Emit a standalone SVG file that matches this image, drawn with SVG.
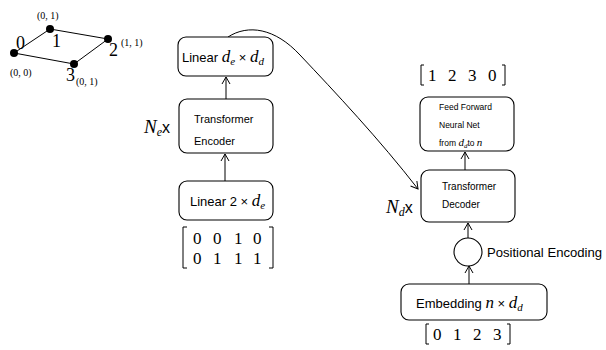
<svg xmlns="http://www.w3.org/2000/svg" width="606" height="350" viewBox="0 0 606 350">
  <defs>
    <marker id="arr" markerWidth="10" markerHeight="10" refX="8" refY="5" orient="auto" markerUnits="userSpaceOnUse">
      <path d="M1,1 L8,5 L1,9" fill="none" stroke="#000" stroke-width="1"/>
    </marker>
  </defs>
  <style>
    .box { fill: #fff; stroke: #000; stroke-width: 1.1; }
    .edge { fill: none; stroke: #000; stroke-width: 1; }
    .sans { font-family: "Liberation Sans", Arial, sans-serif; fill: #000; }
    .helv { font-family: "Liberation Sans", Arial, sans-serif; fill: #000; }
    .serif { font-family: "Liberation Serif", "Times New Roman", serif; fill: #000; }
    .mi { font-family: "Liberation Serif", "Times New Roman", serif; font-style: italic; fill: #000; }
    .dot { fill: #000; }
  </style>

  <!-- small input graph -->
  <g id="graph">
    <path class="edge" d="M14,53 L50,29 L108,39 L74,64 Z"/>
    <circle class="dot" cx="14" cy="53" r="4"/>
    <circle class="dot" cx="50" cy="29" r="4"/>
    <circle class="dot" cx="108" cy="39" r="4"/>
    <circle class="dot" cx="74" cy="64" r="4"/>
    <text class="serif" x="16" y="49" font-size="18">0</text>
    <text class="serif" x="52" y="47" font-size="18">1</text>
    <text class="serif" x="109" y="56" font-size="18">2</text>
    <text class="serif" x="66" y="81" font-size="18">3</text>
    <text class="serif" x="37" y="19" font-size="10">(0, 1)</text>
    <text class="serif" x="121" y="46" font-size="10">(1, 1)</text>
    <text class="serif" x="10" y="76" font-size="10">(0, 0)</text>
    <text class="serif" x="76" y="85" font-size="10">(0, 1)</text>
  </g>

  <!-- connectors -->
  <g id="connectors">
    <line class="edge" x1="226" y1="99" x2="226" y2="77" marker-end="url(#arr)"/>
    <line class="edge" x1="225" y1="181" x2="225" y2="154" marker-end="url(#arr)"/>
    <path class="edge" d="M228,37 C248,24 275,28 300,55 C335,92 380,140 418,189" marker-end="url(#arr)"/>
    <line class="edge" x1="465" y1="170" x2="465" y2="152" marker-end="url(#arr)"/>
    <line class="edge" x1="468" y1="238" x2="468" y2="223" marker-end="url(#arr)"/>
    <line class="edge" x1="469" y1="284" x2="469" y2="266" marker-end="url(#arr)"/>
  </g>

  <!-- encoder side -->
  <g id="linear-de-dd">
    <rect class="box" x="178" y="37" width="95" height="39" rx="8"/>
    <text x="182" y="62" font-size="13"><tspan class="sans">Linear </tspan><tspan class="mi" font-size="17">d</tspan><tspan class="mi" font-size="11" dy="3">e</tspan><tspan class="sans" dy="-3"> × </tspan><tspan class="mi" font-size="17">d</tspan><tspan class="mi" font-size="11" dy="3">d</tspan></text>
  </g>
  <g id="encoder">
    <rect class="box" x="179" y="99" width="94" height="54" rx="8"/>
    <text class="helv" x="194" y="123" font-size="11">Transformer</text>
    <text class="helv" x="194" y="145" font-size="11">Encoder</text>
    <text x="144" y="133" font-size="16"><tspan class="mi" font-size="19">N</tspan><tspan class="mi" font-size="12" dy="3">e</tspan><tspan class="helv" dy="-3">x</tspan></text>
  </g>
  <g id="linear-2-de">
    <rect class="box" x="179" y="181" width="94" height="39" rx="8"/>
    <text x="190" y="206" font-size="13"><tspan class="sans">Linear 2 × </tspan><tspan class="mi" font-size="17">d</tspan><tspan class="mi" font-size="11" dy="3">e</tspan></text>
  </g>
  <g id="input-matrix">
    <path class="edge" d="M187,227 L183,227 L183,268 L187,268 M269,227 L273,227 L273,268 L269,268"/>
    <text class="serif" font-size="17" x="193" y="244">0</text>
    <text class="serif" font-size="17" x="213" y="244">0</text>
    <text class="serif" font-size="17" x="234" y="244">1</text>
    <text class="serif" font-size="17" x="253" y="244">0</text>
    <text class="serif" font-size="17" x="193" y="264">0</text>
    <text class="serif" font-size="17" x="213" y="264">1</text>
    <text class="serif" font-size="17" x="234" y="264">1</text>
    <text class="serif" font-size="17" x="253" y="264">1</text>
  </g>

  <!-- decoder side -->
  <g id="output-seq">
    <path class="edge" d="M424,65 L421,65 L421,85 L424,85 M502,65 L505,65 L505,85 L502,85"/>
    <text class="serif" font-size="17" x="428" y="81">1</text>
    <text class="serif" font-size="17" x="448" y="81">2</text>
    <text class="serif" font-size="17" x="468" y="81">3</text>
    <text class="serif" font-size="17" x="488" y="81">0</text>
  </g>
  <g id="feed-forward">
    <rect class="box" x="420" y="97" width="94" height="54" rx="8"/>
    <text class="helv" x="439" y="110" font-size="8.5">Feed Forward</text>
    <text class="helv" x="439" y="128" font-size="8.5">Neural Net</text>
    <text x="439" y="146" font-size="8.5"><tspan class="helv">from </tspan><tspan class="mi" font-size="11">d</tspan><tspan class="mi" font-size="7" dy="2">d</tspan><tspan class="helv" dy="-2">to  </tspan><tspan class="mi" font-size="11">n</tspan></text>
  </g>
  <g id="decoder">
    <rect class="box" x="421" y="170" width="94" height="52" rx="8"/>
    <text class="helv" x="442" y="190" font-size="10">Transformer</text>
    <text class="helv" x="442" y="208" font-size="10">Decoder</text>
    <text x="386" y="213" font-size="16"><tspan class="mi" font-size="19">N</tspan><tspan class="mi" font-size="12" dy="3">d</tspan><tspan class="helv" dy="-3">x</tspan></text>
  </g>
  <g id="positional-encoding">
    <circle class="box" cx="468" cy="252" r="14"/>
    <text class="sans" x="487" y="257" font-size="12.5" textLength="115" lengthAdjust="spacingAndGlyphs">Positional Encoding</text>
  </g>
  <g id="embedding">
    <rect class="box" x="401" y="284" width="146" height="36" rx="8"/>
    <text x="416" y="308" font-size="13"><tspan class="sans">Embedding </tspan><tspan class="mi" font-size="17">n</tspan><tspan class="sans"> × </tspan><tspan class="mi" font-size="17">d</tspan><tspan class="mi" font-size="11" dy="3">d</tspan></text>
  </g>
  <g id="input-seq">
    <path class="edge" d="M429,324 L426,324 L426,344 L429,344 M507,324 L510,324 L510,344 L507,344"/>
    <text class="serif" font-size="17" x="433" y="340">0</text>
    <text class="serif" font-size="17" x="453" y="340">1</text>
    <text class="serif" font-size="17" x="473" y="340">2</text>
    <text class="serif" font-size="17" x="493" y="340">3</text>
  </g>
</svg>
